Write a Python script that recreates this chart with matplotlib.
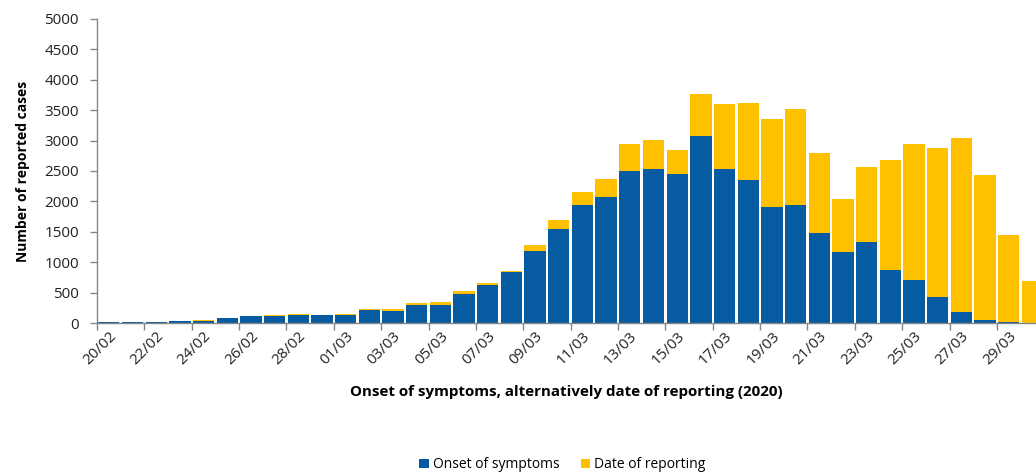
import numpy as np
import matplotlib
matplotlib.use("Agg")
import matplotlib.pyplot as plt
from matplotlib.ticker import FixedLocator

# dates 20/02 .. 30/03 (2020)
dates = ['20/02', '21/02', '22/02', '23/02', '24/02', '25/02', '26/02', '27/02', '28/02', '29/02',
         '01/03', '02/03', '03/03', '04/03', '05/03', '06/03', '07/03', '08/03', '09/03', '10/03',
         '11/03', '12/03', '13/03', '14/03', '15/03', '16/03', '17/03', '18/03', '19/03', '20/03',
         '21/03', '22/03', '23/03', '24/03', '25/03', '26/03', '27/03', '28/03', '29/03', '30/03']

onset = [15, 18, 12, 30, 40, 75, 115, 110, 137, 125,
         137, 214, 202, 290, 303, 480, 633, 832, 1189, 1540,
         1946, 2078, 2494, 2533, 2456, 3076, 2533, 2357, 1913, 1941,
         1480, 1168, 1326, 872, 707, 428, 186, 54, 16, 0]

total = [15, 18, 25, 40, 55, 75, 115, 126, 153, 137,
         153, 230, 230, 334, 345, 531, 663, 860, 1283, 1694,
         2149, 2369, 2949, 3015, 2846, 3772, 3607, 3619, 3356, 3520,
         2801, 2040, 2571, 2686, 2938, 2872, 3037, 2428, 1453, 696]

reporting = [t - o for t, o in zip(total, onset)]

blue = '#065BA3'
yellow = '#FFC000'
grey = '#868686'

plt.rcParams['font.family'] = ['Open Sans', 'DejaVu Sans']

fig = plt.figure(figsize=(10.36, 4.73), dpi=100)
ax = fig.add_axes([0.0936, 0.317, 1.0 - 0.0936, 0.643])

x = np.arange(len(dates))
ax.bar(x, onset, width=0.9, color=blue, linewidth=0, label='Onset of symptoms')
ax.bar(x, reporting, width=0.9, bottom=onset, color=yellow, linewidth=0,
       label='Date of reporting')

ax.set_xlim(-0.5, 39.15)
ax.set_ylim(0, 5000)
ax.set_yticks(np.arange(0, 5001, 500))

# tick marks between categories, labels under every second category
ax.xaxis.set_major_locator(FixedLocator(np.arange(-0.5, 40, 2)))
ax.xaxis.set_major_formatter(plt.NullFormatter())
ax.set_xticks(x[::2], dates[::2], minor=True)
ax.tick_params(axis='x', which='major', length=5, color=grey, width=1)
ax.tick_params(axis='x', which='minor', length=0, pad=4)
for lbl in ax.get_xticklabels(minor=True):
    lbl.set_rotation(45)
    lbl.set_ha('right')
    lbl.set_va('top')
    lbl.set_rotation_mode('anchor')
    lbl.set_fontsize(11)
    lbl.set_color('#222222')

ax.tick_params(axis='y', length=5, color=grey, width=1, labelsize=11,
               labelcolor='#222222', pad=8)

for side in ['top', 'right']:
    ax.spines[side].set_visible(False)
for side in ['left', 'bottom']:
    ax.spines[side].set_color(grey)
    ax.spines[side].set_linewidth(1)

ax.set_xlabel('Onset of symptoms, alternatively date of reporting (2020)',
              fontsize=10.9, fontweight='bold', labelpad=12)
ax.set_ylabel('Number of reported cases', fontsize=10, fontweight='bold', labelpad=10)

fig.legend(loc='lower center', bbox_to_anchor=(0.543, -0.025), ncol=2, frameon=False,
           fontsize=10, handlelength=0.7, handleheight=0.7, handletextpad=0.3,
           columnspacing=1.5)

fig.savefig('out.png', dpi=100)
